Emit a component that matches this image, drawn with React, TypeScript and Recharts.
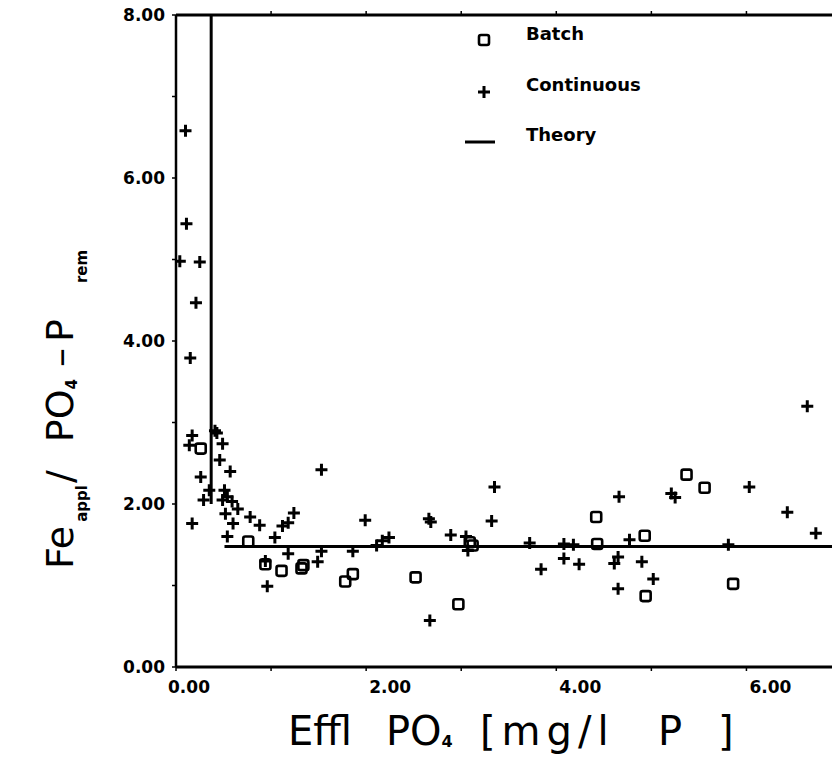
import React from "react";
import { ScatterChart, Scatter, XAxis, YAxis } from "recharts";

// values: [effluent PO4 (mg/l P), Fe/P ratio]
const batch: [number, number][] = [
  [0.26, 2.68], [0.76, 1.54], [0.94, 1.26], [1.11, 1.18], [1.34, 1.25], [1.32, 1.21],
  [1.78, 1.05], [1.86, 1.14], [2.52, 1.1], [2.97, 0.77], [3.12, 1.49], [3.09, 1.53],
  [4.42, 1.84], [4.43, 1.51], [4.93, 1.61], [4.94, 0.87], [5.37, 2.36], [5.56, 2.2],
  [5.86, 1.02],
];

const continuous: [number, number][] = [
  [0.1, 6.58], [0.11, 5.44], [0.04, 4.98], [0.25, 4.97], [0.21, 4.47], [0.15, 3.79],
  [0.17, 2.84], [0.14, 2.72], [0.41, 2.9], [0.43, 2.87], [0.49, 2.74], [0.46, 2.54],
  [0.57, 2.4], [0.26, 2.33], [0.35, 2.17], [0.29, 2.05], [0.51, 2.17], [0.54, 2.09],
  [0.49, 2.05], [0.59, 2.03], [0.65, 1.94], [0.52, 1.88], [0.17, 1.76], [0.6, 1.76],
  [0.78, 1.84], [0.88, 1.74], [0.54, 1.6], [1.04, 1.59], [1.12, 1.73], [1.18, 1.77],
  [1.24, 1.89], [1.53, 2.42], [1.18, 1.39], [0.94, 1.3], [0.96, 0.99], [1.49, 1.29],
  [1.53, 1.42], [1.99, 1.8], [1.86, 1.42], [2.11, 1.49], [2.17, 1.55], [2.24, 1.59],
  [2.66, 1.82], [2.68, 1.78], [2.67, 0.57], [2.89, 1.62], [3.05, 1.6], [3.07, 1.43],
  [3.35, 2.21], [3.32, 1.79], [3.72, 1.52], [3.84, 1.2], [4.08, 1.51], [4.08, 1.33],
  [4.18, 1.5], [4.24, 1.26], [4.66, 2.09], [4.65, 1.35], [4.61, 1.27], [4.65, 0.96],
  [4.77, 1.56], [4.9, 1.29], [5.02, 1.08], [5.21, 2.13], [5.25, 2.08], [5.81, 1.5],
  [6.03, 2.21], [6.43, 1.9], [6.73, 1.64], [6.64, 3.2],
];

const theoryDrop: [number, number][] = [[0.37, 8], [0.37, 2.0]];
const theoryFlat: [number, number][] = [[0.51, 1.48], [6.9, 1.48]];

const xTicks = [0, 1, 2, 3, 4, 5, 6];
const yTicks = [0, 1, 2, 3, 4, 5, 6, 7, 8];

const toPts = (arr: [number, number][]) => arr.map(([x, y]) => ({ x, y }));

const FONT = "'DejaVu Sans', sans-serif";

const Plus = ({ cx, cy }: any) => (
  <path
    d={`M${cx - 6},${cy}H${cx + 6}M${cx},${cy - 6}V${cy + 6}`}
    stroke="#000"
    strokeWidth={3}
    fill="none"
  />
);

const Box = ({ cx, cy }: any) => (
  <rect x={cx - 5} y={cy - 5} width={10} height={10} rx={2} stroke="#000" strokeWidth={2.6} fill="none" />
);

const Nothing = () => <g />;

const XTick = ({ x, y, payload }: any) => {
  const v = payload.value;
  if (v % 2 !== 0) return <g />;
  return (
    <text x={x + (v === 0 ? 13 : 24)} y={y + 20} textAnchor="middle" fontFamily={FONT} fontWeight="bold" fontSize={17} fill="#000">
      {v.toFixed(2)}
    </text>
  );
};

const YTick = ({ x, y, payload }: any) => {
  const v = payload.value;
  if (v % 2 !== 0) return <g />;
  return (
    <text x={x} y={y + 6} textAnchor="end" fontFamily={FONT} fontWeight="bold" fontSize={17} fill="#000">
      {v.toFixed(2)}
    </text>
  );
};

export default function App() {
  return (
    <div style={{ position: "absolute", left: 0, top: 0, width: 832, height: 761, background: "#fff" }}>
      <ScatterChart width={832} height={761} margin={{ top: 0, right: 0, bottom: 0, left: 0 }}>
        <XAxis
          xAxisId="b"
          type="number"
          dataKey="x"
          domain={[0, 6.9]}
          ticks={xTicks}
          interval={0}
          allowDataOverflow
          height={94}
          axisLine={{ stroke: "#000", strokeWidth: 3 }}
          tickLine={{ stroke: "#000", strokeWidth: 1.5 }}
          tickSize={4}
          tickMargin={2}
          tick={<XTick />}
        />
        <XAxis
          xAxisId="t"
          orientation="top"
          type="number"
          dataKey="x"
          domain={[0, 6.9]}
          ticks={[1, 2, 3, 4, 5, 6]}
          interval={0}
          allowDataOverflow
          height={15}
          axisLine={{ stroke: "#000", strokeWidth: 3 }}
          tickLine={{ stroke: "#000", strokeWidth: 1.5 }}
          tickSize={4}
          tick={Nothing}
        />
        <YAxis
          type="number"
          dataKey="y"
          domain={[0, 8]}
          ticks={yTicks}
          interval={0}
          allowDataOverflow
          width={176}
          axisLine={{ stroke: "#000", strokeWidth: 2.5 }}
          tickLine={{ stroke: "#000", strokeWidth: 1.5 }}
          tickSize={4}
          tickMargin={7}
          tick={<YTick />}
        />
        <Scatter xAxisId="b" data={toPts(theoryDrop)} stroke="#000" line={{ stroke: "#000", strokeWidth: 3 }} shape={Nothing} isAnimationActive={false} />
        <Scatter xAxisId="b" data={toPts(theoryFlat)} stroke="#000" line={{ stroke: "#000", strokeWidth: 3 }} shape={Nothing} isAnimationActive={false} />
        <Scatter xAxisId="b" name="Batch" data={toPts(batch)} shape={Box} isAnimationActive={false} />
        <Scatter xAxisId="b" name="Continuous" data={toPts(continuous)} shape={Plus} isAnimationActive={false} />
      </ScatterChart>

      {/* legend and axis titles */}
      <svg width={832} height={761} style={{ position: "absolute", left: 0, top: 0, pointerEvents: "none" }}>
        <g fontFamily={FONT} fill="#000">
          <Box cx={484} cy={40} />
          <text x={526} y={40} fontSize={18} fontWeight="bold">Batch</text>
          <Plus cx={484} cy={92} />
          <text x={526} y={91} fontSize={18} fontWeight="bold">Continuous</text>
          <line x1={465} x2={495} y1={142} y2={142} stroke="#000" strokeWidth={3} />
          <text x={526} y={141} fontSize={18} fontWeight="bold">Theory</text>

          <text x={288} y={745} fontSize={40}>Effl</text>
          <text x={386} y={745} fontSize={40}>
            PO<tspan fontSize={16} fontWeight="bold" dy={2}>4</tspan>
          </text>
          <text x={480} y={745} fontSize={40} letterSpacing={6}>[mg/l</text>
          <text x={658} y={745} fontSize={40}>P</text>
          <text x={718} y={745} fontSize={40}>]</text>

          <text transform="translate(73,569) rotate(-90)" fontSize={38}>
            Fe
            <tspan fontSize={15} fontWeight="bold" dx={4} dy={14}>appl</tspan>
            <tspan dx={2} dy={-14}>/</tspan>
            <tspan dx={28}>PO</tspan>
            <tspan fontSize={15} fontWeight="bold" dy={4}>4</tspan>
            <tspan dx={12} dy={-4}>–</tspan>
            <tspan dx={6}>P</tspan>
            <tspan fontSize={15} fontWeight="bold" dx={36} dy={14}>rem</tspan>
          </text>
        </g>
      </svg>
    </div>
  );
}
